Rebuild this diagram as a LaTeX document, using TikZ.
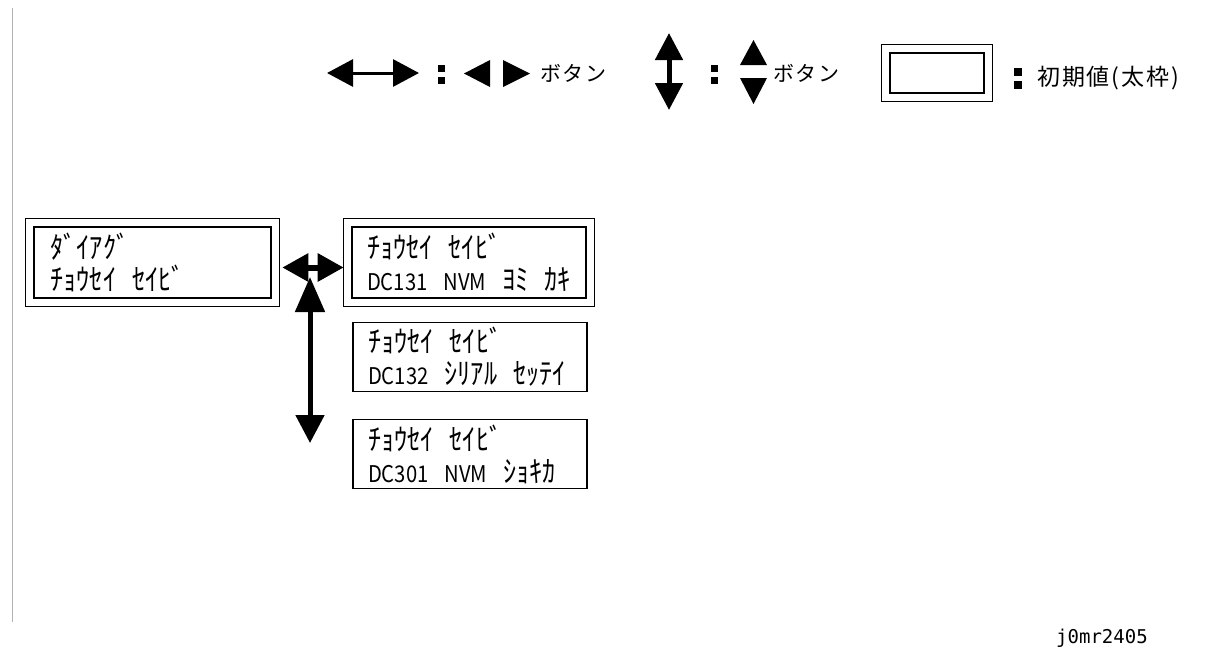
\documentclass[tikz,border=0pt]{standalone}
\usepackage{fontspec}
\newfontfamily\jpfont{Noto Sans CJK JP}[LetterSpace=8]
\font\lcdfont="Noto Sans CJK JP:extend=0.88" at 23pt
\font\kanafont="Noto Sans CJK JP:extend=0.88" at 29.9pt
\newfontfamily\codefont{DejaVu Sans Mono}
\newcommand\kn[1]{{\kanafont #1}}
\newcommand\gp{\hspace{16pt}}
\usetikzlibrary{arrows.meta}

\begin{document}
\begin{tikzpicture}[x=1pt, y=-1pt,
    lcdbox/.style={draw, line width=1.6pt, minimum width=234pt, minimum height=69pt,
      text width=204pt, inner xsep=15pt, align=left,
      font=\fontsize{23}{32}\selectfont\lcdfont},
    initbox/.style={lcdbox, line width=2.6pt, minimum height=71pt},
    outerframe/.style={line width=1.2pt},
    bigarrow/.style={line width=5pt},
    legtext/.style={font=\jpfont\fontsize{21}{21}\selectfont, anchor=west, inner sep=0pt}]

    \useasboundingbox (0,0) rectangle (1211,670);

    % --- 1. left rule ---
    \draw[gray!60, line width=0.8pt] (12,8) -- (12,622);

    % --- 2. legend ---
    \draw[<->, >={Triangle[length=26pt, width=27pt]}, line width=3pt] (327,73) -- (419,73);
    \fill (464,73.5) -- (490,60) -- (490,87) -- cycle;
    \fill (530,73.5) -- (503,60) -- (503,87) -- cycle;
    \node[legtext] (lrbtn) at (540,73) {ボタン};

    \draw[<->, >={Triangle[length=27pt, width=27pt]}, line width=5pt] (669,33) -- (669,110);
    \fill (753.5,40) -- (740,65) -- (767,65) -- cycle;
    \fill (753.5,104) -- (740,78) -- (767,78) -- cycle;
    \node[legtext] (udbtn) at (773,73) {ボタン};

    \node[draw, line width=2.6pt, minimum width=94pt, minimum height=40pt] (legbox) at (937,73) {};
    \node[legtext, font=\jpfont\fontsize{23}{23}\selectfont] (initlbl) at (1037,78) {初期値(太枠)};

    % colons
    \foreach \cx/\cy/\cs in {441/64.5/7, 714/64.5/7, 1017.5/68/8} {
      \fill (\cx-\cs/2,\cy) rectangle ++(\cs,\cs);
      \fill (\cx-\cs/2,\cy+5+\cs) rectangle ++(\cs,\cs);
    }

    % --- 3. menu boxes ---
    \node[initbox, minimum width=237pt] (diag) at (152.5,262.5) {\kn{ﾀﾞｲｱｸﾞ}\\\kn{ﾁｮｳｾｲ\gp ｾｲﾋﾞ}};
    \node[initbox] (nvmrw) at (469,262.5) {\kn{ﾁｮｳｾｲ\gp ｾｲﾋﾞ}\\DC131\gp NVM\gp\kn{ﾖﾐ\gp ｶｷ}};
    \node[lcdbox] (serial) at (470,357) {\kn{ﾁｮｳｾｲ\gp ｾｲﾋﾞ}\\DC132\gp\kn{ｼﾘｱﾙ\gp ｾｯﾃｲ}};
    \node[lcdbox] (nvminit) at (470,454) {\kn{ﾁｮｳｾｲ\gp ｾｲﾋﾞ}\\DC301\gp NVM\gp\kn{ｼｮｷｶ}};

    % thick frame = initial value
    \foreach \n/\gap in {diag/7pt, nvmrw/7pt, legbox/7.5pt}
      \draw[outerframe] ([shift={(-\gap,-\gap)}]\n.south west) rectangle ([shift={(\gap,\gap)}]\n.north east);

    % --- 4. arrows ---
    \draw[bigarrow, line width=6pt, <->, >={Triangle[length=26pt, width=27pt]}]
      ([xshift=10pt, yshift=-5pt]diag.east) -- ([xshift=-7pt, yshift=-5pt]nvmrw.west);
    \coordinate (vtop) at (310,277);
    \coordinate (vbot) at (310,443);
    \draw[bigarrow, {Triangle[length=35pt, width=29pt]}-{Triangle[length=28pt, width=28pt]}] (vtop) -- (vbot);

    \node[font=\codefont\fontsize{19}{19}\selectfont, anchor=west, inner sep=0pt] (figid) at (1056,638) {j0mr2405};

\end{tikzpicture}
\end{document}
